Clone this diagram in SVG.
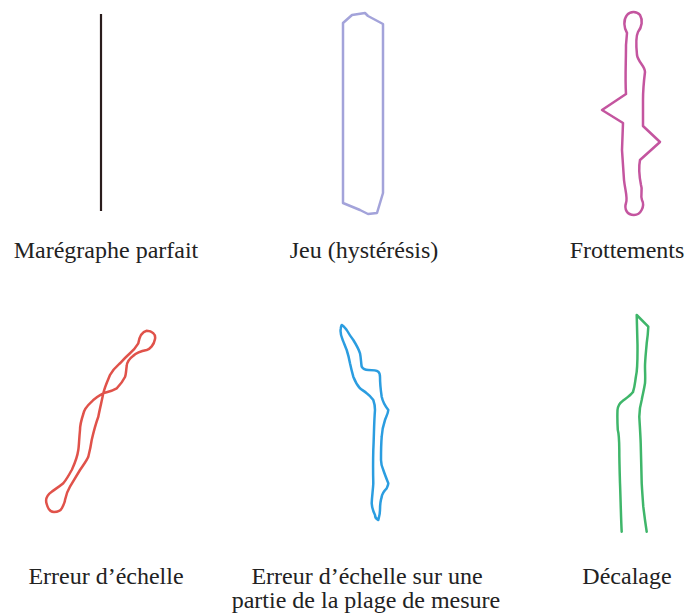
<svg xmlns="http://www.w3.org/2000/svg" width="687" height="614" viewBox="0 0 687 614">
<style>
text{font-family:"Liberation Serif","Times New Roman",serif;font-size:24px;fill:#222;text-anchor:middle}
.c{fill:none;stroke-width:2.5;stroke-linejoin:round;stroke-linecap:round}
</style>
<rect width="687" height="614" fill="#fff"/>
<g id="parfait">
<line x1="101" y1="14" x2="101" y2="211" stroke="#2a1c1c" stroke-width="2.2"/>
<text x="106" y="258">Marégraphe parfait</text>
</g>
<g id="jeu">
<path class="c" stroke="#a3a3da" stroke-width="2" d="M343,23 L352,15 L365,13 L368,16 L383,24 L383,193 L377,213 L368,214 L360,210 L343,203 Z"/>
<text x="364" y="258">Jeu (hystérésis)</text>
</g>
<g id="frottements">
<path class="c" stroke="#c4559f" d="M627,33 C624,28 623,20 627,15 C630,11 637,11 640,15 C643,20 642,27 638,32 C636,36 636,45 637,55 C638,62 645,66 645,72 C644,80 643,90 643,100 L643,126 L660,142 L640,160 C638,170 640,180 641,185 C643,190 640,195 642,200 C645,206 641,215 634,215 C627,215 624,209 626,203 C628,198 625,190 624,180 L622,150 L623,123 L602,110 L626,94 C625,80 626,60 626,45 Z"/>
<text x="627" y="258">Frottements</text>
</g>
<g id="echelle">
<path class="c" stroke="#e0524a" d="M146.7,330.7 C152,331 156,334 155,339 C154,345 150,349 146.7,350 C141,351 136,353 133,356 C129,359 127,362 126.7,366 C126,371 126,375 125,377 C122,383 119,386 116.7,388.3 C112,391 107,392 103.3,393.3 C98,396 94,399 91.7,401.7 C87,406 84,410 83.3,414 C81,421 80,426 80,430 C79,440 79,446 78.3,450 C77,459 74,465 71.7,470 C69,475 66,480 63.3,483.3 C59,487 55,489 51.7,491.7 C47,495 45,499 46.7,504 C48,509 51,512 54,512 C58,512 61,510 62,508 C64,504 65,502 65,500 C66,495 68,490 70,486.7 C74,480 77,475 80,470 C84,464 87,460 88.3,456.7 C90,450 91,445 91.7,440 C94,430 96,423 98.3,416.7 C100,408 102,400 103.3,393.3 C105,386 108,380 110,375 C113,369 117,366 120,363.3 C124,359 127,356 130,353.3 C134,350 136,347 138.3,343.3 C139,339 141,332 146.7,330.7 Z"/>
<text x="106" y="584">Erreur d’échelle</text>
</g>
<g id="echelle-partie">
<path class="c" stroke="#2b9de0" d="M341.7,325 C344,326 345,328 346.7,330 C349,334 351,337 353.3,340 C357,346 359,350 360,353.3 C361,358 361,363 361.7,366.7 C363,369 365,370 368.3,370 C372,370 376,370 378.3,371.7 C380,373 380,375 380,377 C380,385 381,392 381.7,396.7 C383,403 386,407 388.3,410 C388,414 386,417 385,420 C383,426 382,431 381.7,436.7 C381,445 381,453 381,460 C381,464 382,467 383.3,470 C385,475 387,480 388.3,483.3 C388,486 387,487 386.7,488.3 C384,491 382,494 381.7,497 C380,502 380,506 380,510 C380,514 379,517 378.3,520 C376,519 375,517 375,515 C373,511 372,507 371.7,503.3 C372,496 373,490 373.3,483.3 C373,472 373,461 373.3,450 C374,436 374,422 375,410 C375,405 374,402 373.3,400 C371,397 369,395 366.7,393.3 C364,391 362,390 360,388.3 C357,385 355,381 353.3,376.7 C352,372 351,368 350,363.3 C349,358 348,354 346.7,350 C345,346 344,343 342.7,340 C341,336 340,333 340.7,329 C341,327 341,326 341.7,325 Z"/>
<text x="367" y="584">Erreur d’échelle sur une</text>
<text x="366" y="608">partie de la plage de mesure</text>
</g>
<g id="decalage">
<path class="c" stroke="#3fb66a" d="M621.7,531.7 C621,520 620.5,495 620,483.3 C619.6,470 619.3,460 619.3,450 C619.2,440 619,434 617.8,430 C617.3,422 617.3,415 617.5,410 C618,405 620,403 622,401.5 C625,399 630,396 633,392 C635,386 635,382 636,376 C637.5,370 637.6,360 637.5,345 C637.3,335 637,325 636.7,315 L648.3,326.7 C648,333 647.5,338 646.7,343.3 C646,352 645,360 645,366.7 C645,372 645.5,378 645,383.3 C644,390 642.5,395 641.7,400 C640,406 639.3,411 639.3,416.7 C639.8,426 640.5,436 640.7,443.3 C641,456 641.4,470 641.7,483.3 C642.2,492 642.8,500 643.3,506.7 C644.3,515 645.5,524 646.7,531.7"/>
<text x="627" y="584">Décalage</text>
</g>
</svg>
